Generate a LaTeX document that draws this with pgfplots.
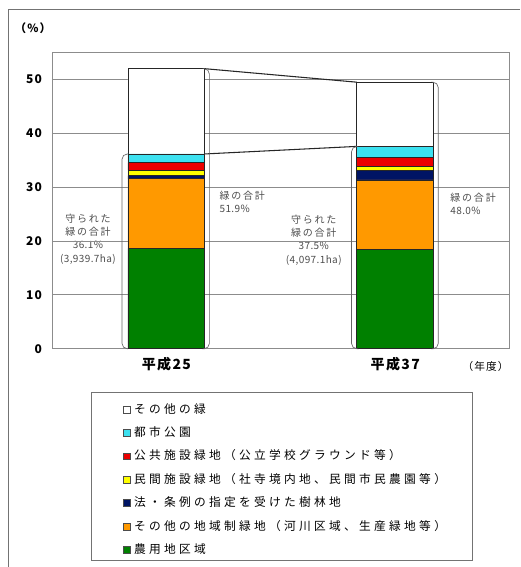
\documentclass[border=0pt]{standalone}
\usepackage{fontspec}
\setmainfont{Noto Sans CJK JP}
\newfontfamily\legfont[LetterSpace=28]{Noto Sans CJK JP}
\newfontfamily\annfont[LetterSpace=18]{Noto Sans CJK JP}
\newfontfamily\numfont[LetterSpace=4]{Noto Sans CJK JP}
\newfontfamily\tickfont[LetterSpace=10]{Noto Sans CJK JP}
\usepackage{pgfplots}
\pgfplotsset{compat=1.18}
\definecolor{cGreen}{RGB}{0,128,0}
\definecolor{cOrange}{RGB}{255,153,0}
\definecolor{cNavy}{RGB}{0,20,100}
\definecolor{cYellow}{RGB}{255,255,0}
\definecolor{cRed}{RGB}{235,0,0}
\definecolor{cCyan}{RGB}{60,225,240}
\begin{document}
\begin{tikzpicture}
\begin{scope}[x=0.75pt,y=-0.75pt]
\path (0,0) rectangle (520,567);
\draw[black!55, line width=0.6pt] (8,567) -- (8,9) -- (520,9);
\draw[black!55, line width=0.6pt] (91,393) rectangle (473,561);
\node[font=\tickfont\bfseries\fontsize{8.5}{10}\selectfont] at (33,28) {（\%）};
\node[font=\tickfont\fontsize{8}{10}\selectfont] at (486,367) {（年度）};
\node[font=\numfont\fontsize{7.5}{10}\selectfont, text=black!70, align=center] at (88,239) {{\annfont 守られた}\\{\annfont 緑の合計}\\36.1\%\\(3,939.7ha)};
\node[font=\numfont\fontsize{7.5}{10}\selectfont, text=black!70, align=left, anchor=west] at (215,202) {{\annfont 緑の合計}\\51.9\%};
\node[font=\numfont\fontsize{7.5}{10}\selectfont, text=black!70, align=center] at (314,240) {{\annfont 守られた}\\{\annfont 緑の合計}\\37.5\%\\(4,097.1ha)};
\node[font=\numfont\fontsize{7.5}{10}\selectfont, text=black!70, align=left, anchor=west] at (446,204) {{\annfont 緑の合計}\\48.0\%};
\end{scope}
\begin{axis}[
  at={(39pt,-261.75pt)}, anchor=south west,
  scale only axis, width=343.5pt, height=222.75pt,
  ybar stacked, bar width=0.336,
  xmin=0.5, xmax=2.5, ymin=0, ymax=55,
  xtick={1,2}, xticklabels={平成25,平成37},
  ytick={0,10,20,30,40,50},
  major tick length=0pt,
  ymajorgrids, grid style={black!45, line width=0.5pt},
  axis line style={black!45, line width=0.6pt},
  /pgf/number format/assume math mode=true,
  yticklabel style={font=\tickfont\bfseries\fontsize{9}{10}\selectfont, xshift=-4pt},
  xticklabel style={font=\tickfont\bfseries\fontsize{10.5}{12}\selectfont, yshift=-3pt},
  reverse legend,
  legend cell align=left,
  legend image code/.code={\draw[#1, draw=black!70, line width=0.4pt] (0pt,-2.6pt) rectangle (5.2pt,2.6pt);},
  legend style={at={(0.155,-0.182)}, anchor=north west, draw=none, fill=none, inner sep=0pt,
    font=\legfont\fontsize{8.8}{10}\selectfont, row sep=8.1pt,
    nodes={inner sep=0pt, text height=7.5pt, text depth=2pt},
    /tikz/every odd column/.append style={column sep=2.6pt}},
  every axis plot/.append style={draw=black!85, line width=0.5pt},
]
\addplot[fill=cGreen] coordinates {(1,18.6) (2,18.4)};
\addlegendentry{農用地区域}
\addplot[fill=cOrange] coordinates {(1,12.9) (2,12.9)};
\addlegendentry{その他の地域制緑地（河川区域、生産緑地等）}
\addplot[fill=cNavy] coordinates {(1,0.6) (2,1.7)};
\addlegendentry{法・条例の指定を受けた樹林地}
\addplot[fill=cYellow] coordinates {(1,1.0) (2,0.8)};
\addlegendentry{民間施設緑地（社寺境内地、民間市民農園等）}
\addplot[fill=cRed] coordinates {(1,1.4) (2,1.6)};
\addlegendentry{公共施設緑地（公立学校グラウンド等）}
\addplot[fill=cCyan] coordinates {(1,1.6) (2,2.1)};
\addlegendentry{都市公園}
\addplot[fill=white] coordinates {(1,15.8) (2,11.9)};
\addlegendentry{その他の緑}
\end{axis}
\begin{axis}[
  at={(39pt,-261.75pt)}, anchor=south west,
  scale only axis, width=343.5pt, height=222.75pt,
  xmin=0.5, xmax=2.5, ymin=0, ymax=55,
  axis lines=none, clip=false,
]
\addplot[black!85, line width=0.8pt] coordinates {(1.168,51.9) (1.832,49.4)};
\addplot[black!85, line width=0.8pt] coordinates {(1.168,36.1) (1.832,37.5)};
\draw[black!60, line width=0.5pt, rounded corners=4pt] (axis cs:0.832,36.1) -- (axis cs:0.806,36.1) -- (axis cs:0.806,0) -- (axis cs:0.832,0);
\draw[black!60, line width=0.5pt, rounded corners=4pt] (axis cs:1.168,51.9) -- (axis cs:1.188,51.9) -- (axis cs:1.188,0) -- (axis cs:1.168,0);
\draw[black!60, line width=0.5pt, rounded corners=4pt] (axis cs:1.832,37.5) -- (axis cs:1.809,37.5) -- (axis cs:1.809,0) -- (axis cs:1.832,0);
\draw[black!60, line width=0.5pt, rounded corners=4pt] (axis cs:2.168,49.4) -- (axis cs:2.188,49.4) -- (axis cs:2.188,0) -- (axis cs:2.168,0);
\end{axis}
\end{tikzpicture}
\end{document}
